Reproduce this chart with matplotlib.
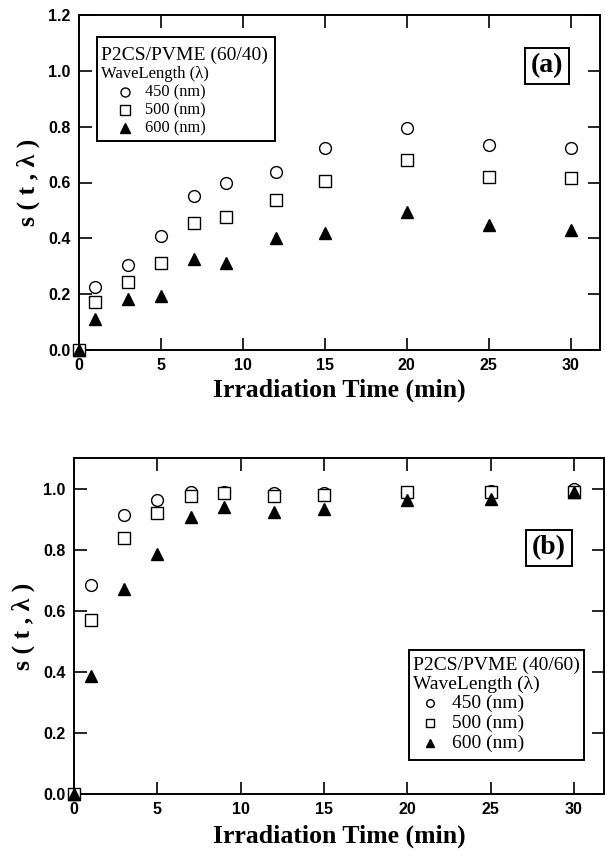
import matplotlib
matplotlib.use("Agg")
import matplotlib.pyplot as plt
from matplotlib.patches import Rectangle
from matplotlib.lines import Line2D

# irradiation times (min)
t = [0, 1, 3, 5, 7, 9, 12, 15, 20, 25, 30]

# panel (a) P2CS/PVME (60/40)
a_450 = [0, 0.227, 0.304, 0.408, 0.552, 0.597, 0.636, 0.722, 0.796, 0.734, 0.725]
a_500 = [0, 0.173, 0.245, 0.313, 0.456, 0.478, 0.537, 0.606, 0.681, 0.621, 0.617]
a_600 = [0, 0.110, 0.183, 0.193, 0.325, 0.310, 0.400, 0.420, 0.495, 0.447, 0.430]

# panel (b) P2CS/PVME (40/60)
b_450 = [0, 0.683, 0.912, 0.963, 0.988, 0.988, 0.985, 0.985, 0.990, 0.993, 1.0]
b_500 = [0, 0.569, 0.839, 0.919, 0.977, 0.985, 0.977, 0.980, 0.988, 0.988, 0.990]
b_600 = [0, 0.387, 0.672, 0.786, 0.908, 0.941, 0.923, 0.934, 0.961, 0.966, 0.990]

wl_labels = ["450 (nm)", "500 (nm)", "600 (nm)"]
xticks = [0, 5, 10, 15, 20, 25, 30]

W, H = 605, 852
SERIF = ["Liberation Serif", "DejaVu Serif"]
SANS = ["Liberation Sans", "DejaVu Sans"]

fig = plt.figure(figsize=(W / 100, H / 100), dpi=100)


def fx(px):
    return px / W


def fy(py):
    return 1 - py / H


def style_axes(ax, ylim, yticks):
    ax.set_xlim(0, 31.8)
    ax.set_ylim(*ylim)
    ax.set_xticks(xticks)
    ax.set_yticks(yticks)
    ax.set_xticklabels([str(v) for v in xticks], family=SANS, fontsize=11.5,
                       fontweight="bold")
    ax.set_yticklabels(["%.1f" % v for v in yticks], family=SANS, fontsize=11.5,
                       fontweight="bold")
    ax.tick_params(direction="in", length=9, width=1.2, top=True, right=True,
                   labeltop=False, labelright=False, pad=6)
    for s in ax.spines.values():
        s.set_linewidth(1.4)
    ax.set_ylabel("s ( t , λ )", family=SERIF, fontweight="bold", fontsize=18.5,
                  labelpad=6)


def plot_series(ax, y1, y2, y3):
    kw = dict(linestyle="none", markersize=8.5, clip_on=False, zorder=3)
    ax.plot(t, y1, marker="o", mfc="white", mec="black", mew=1.0, **kw)
    ax.plot(t, y2, marker="s", mfc="white", mec="black", mew=1.0, **kw)
    ax.plot(t, y3, marker="^", mfc="black", mec="black", mew=1.0, **kw)


def legend_box(box, title, lines_y, title_size, sub_size, item_size, mk_size,
               sub_x, mk_x, txt_x):
    x0, y0, x1, y1 = box
    fig.add_artist(Rectangle((fx(x0), fy(y1)), fx(x1 - x0), fy(y0) - fy(y1),
                             transform=fig.transFigure, fill=True, fc="white",
                             ec="black", lw=1.4, zorder=5))
    fig.text(fx(sub_x), fy(lines_y[0]), title, family=SERIF, fontsize=title_size,
             va="center", ha="left", zorder=6)
    fig.text(fx(sub_x), fy(lines_y[1]), "WaveLength (λ)", family=SERIF,
             fontsize=sub_size, va="center", ha="left", zorder=6)
    specs = [("o", "white"), ("s", "white"), ("^", "black")]
    for (m, fc), lab, yy in zip(specs, wl_labels, lines_y[2:]):
        fig.add_artist(Line2D([fx(mk_x)], [fy(yy)], marker=m, mfc=fc, mec="black",
                              mew=1.0, markersize=mk_size, linestyle="none",
                              transform=fig.transFigure, zorder=6))
        fig.text(fx(txt_x), fy(yy), lab, family=SERIF, fontsize=item_size,
                 va="center", ha="left", zorder=6)


def tag_box(cx, cy, text):
    fig.text(fx(cx), fy(cy), text, family=SERIF, fontweight="bold", fontsize=20,
             ha="center", va="center", zorder=6,
             bbox=dict(boxstyle="square,pad=0.2", fc="white", ec="black", lw=1.4))


# ---- panel (a)
ax1 = fig.add_axes([fx(79), fy(350), fx(600 - 79), fy(15) - fy(350)])
style_axes(ax1, (0, 1.2), [0, 0.2, 0.4, 0.6, 0.8, 1.0, 1.2])
plot_series(ax1, a_450, a_500, a_600)
ax1.set_xlabel("Irradiation Time (min)", family=SERIF, fontweight="bold",
               fontsize=18.5, labelpad=4)
legend_box((97, 37, 275, 141), "P2CS/PVME (60/40)", [55, 74, 92, 110, 128],
           14, 12, 11.8, 6.5, 101, 125, 145)
tag_box(547, 66, "(a)")

# ---- panel (b)
ax2 = fig.add_axes([fx(74), fy(794), fx(604 - 74), fy(458) - fy(794)])
style_axes(ax2, (0, 1.1), [0, 0.2, 0.4, 0.6, 0.8, 1.0])
plot_series(ax2, b_450, b_500, b_600)
ax2.set_xlabel("Irradiation Time (min)", family=SERIF, fontweight="bold",
               fontsize=18.5, labelpad=5)
legend_box((409, 650, 584, 760), "P2CS/PVME (40/60)", [665, 684, 703, 723, 743],
           14, 14, 14, 5.5, 413, 430, 452)
tag_box(549, 548, "(b)")

fig.savefig("out.png", dpi=100)
